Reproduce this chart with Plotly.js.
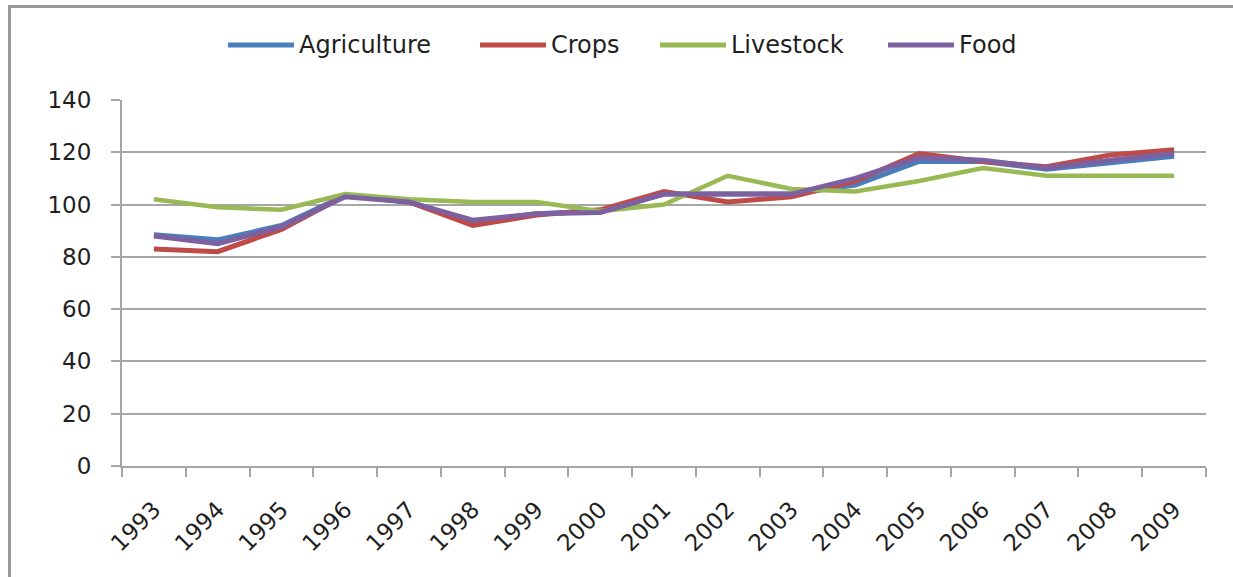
<!DOCTYPE html>
<html>
<head>
<meta charset="utf-8">
<script src="https://cdn.plot.ly/plotly-3.0.1.min.js"></script>
<style>
  html, body { margin: 0; padding: 0; background: #fff; }
  #frame { position: absolute; left: 0; top: 0; width: 1233px; height: 577px; overflow: hidden; }
  #chart { position: absolute; left: 0; top: 0; width: 1233px; height: 577px; }
  #border { position: absolute; left: 8px; top: 5px; width: 1240px; height: 600px;
            border-left: 3px solid #999; border-top: 3px solid #999; box-sizing: border-box; pointer-events: none; }
</style>
</head>
<body>
<div id="frame">
  <div id="chart"></div>
  <div id="border"></div>
</div>
<script>
const years = ["1993","1994","1995","1996","1997","1998","1999","2000","2001","2002","2003","2004","2005","2006","2007","2008","2009"];
const seriesNames = ["Agriculture", "Crops", "Livestock", "Food"];
const agriculture = [88.5, 86.5, 92, 103.5, 101, 93.5, 96.5, 97.5, 104, 104, 104, 107.5, 116.5, 116.5, 113.5, 116, 118.5];
const crops       = [83, 82, 90.5, 103.5, 101, 92, 96, 98, 105, 101, 103, 109, 119.5, 116.5, 114.5, 119, 121];
const livestock   = [102, 99, 98, 104, 102, 101, 101, 97.5, 100, 111, 106, 105, 109, 114, 111, 111, 111];
const food        = [88, 85, 91.5, 103, 101, 94, 96.5, 97, 104, 104, 104, 110, 118, 117, 114, 117, 119.5];
const yTicks = [0, 20, 40, 60, 80, 100, 120, 140];

const values = [agriculture, crops, livestock, food];
const colors = ["#4a7ebb", "#be4b48", "#98b954", "#7d60a0"];
const widths = [5, 5, 4.5, 5];
const FONT = "DejaVu Sans, sans-serif";
const TXT = "#1f1f1f";

const traces = values.map((v, i) => ({
  type: "scatter", mode: "lines", name: seriesNames[i],
  x: years, y: v,
  line: { color: colors[i], width: widths[i] },
  showlegend: false
}));

// Custom legend (long swatches like the original)
const L = 122, R = 1206, T = 100, B = 466;
const px = x => (x - L) / (R - L);
const py = y => (B - y) / (B - T);
const legendX = [228, 480, 660, 888];
const shapes = [], annotations = [];
seriesNames.forEach((n, i) => {
  shapes.push({ type: "line", xref: "paper", yref: "paper",
    x0: px(legendX[i]), x1: px(legendX[i] + 66), y0: py(45), y1: py(45),
    line: { color: colors[i], width: 5 } });
  annotations.push({ xref: "paper", yref: "paper", x: px(legendX[i] + 69), y: py(45),
    xanchor: "left", yanchor: "middle", text: n, showarrow: false,
    font: { family: FONT, size: 24, color: TXT } });
});

const layout = {
  width: 1233, height: 577,
  margin: { l: L, r: 1233 - R, t: T, b: 577 - B, pad: 0 },
  paper_bgcolor: "rgba(0,0,0,0)", plot_bgcolor: "#fff",
  font: { family: FONT, size: 23, color: TXT },
  xaxis: {
    type: "category", tickson: "boundaries", range: [-0.5, years.length - 0.5],
    showline: true, linecolor: "#a6a6a6", linewidth: 2,
    ticks: "outside", ticklen: 9, tickcolor: "#a6a6a6", tickwidth: 2,
    showgrid: false, tickangle: -45, zeroline: false,
    ticklabelstandoff: 19,
    tickfont: { family: FONT, size: 23, color: TXT }
  },
  yaxis: {
    range: [0, 140], tickvals: yTicks, ticktext: yTicks.map(String),
    showline: true, linecolor: "#a6a6a6", linewidth: 2,
    ticks: "outside", ticklen: 9, tickcolor: "#a6a6a6", tickwidth: 2,
    showgrid: true, gridcolor: "#a6a6a6", gridwidth: 2, zeroline: false,
    ticklabelstandoff: 15,
    tickfont: { family: FONT, size: 23, color: TXT }
  },
  shapes: shapes,
  annotations: annotations
};

Plotly.newPlot("chart", traces, layout, { displayModeBar: false, staticPlot: true });
</script>
</body>
</html>
